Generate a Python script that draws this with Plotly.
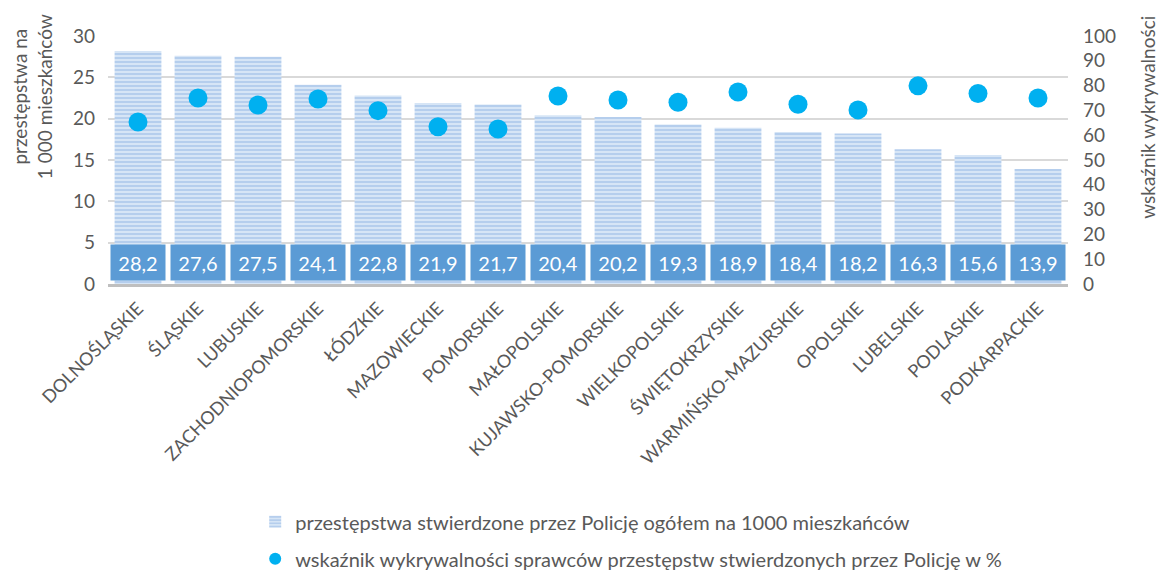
import plotly.graph_objects as go

regions = ["DOLNOŚLĄSKIE", "ŚLĄSKIE", "LUBUSKIE", "ZACHODNIOPOMORSKIE", "ŁÓDZKIE",
           "MAZOWIECKIE", "POMORSKIE", "MAŁOPOLSKIE", "KUJAWSKO-POMORSKIE",
           "WIELKOPOLSKIE", "ŚWIĘTOKRZYSKIE", "WARMIŃSKO-MAZURSKIE", "OPOLSKIE",
           "LUBELSKIE", "PODLASKIE", "PODKARPACKIE"]
crimes_per_1000 = [28.2, 27.6, 27.5, 24.1, 22.8, 21.9, 21.7, 20.4, 20.2,
                   19.3, 18.9, 18.4, 18.2, 16.3, 15.6, 13.9]
detection_rate = [65.3, 75.0, 72.2, 74.6, 69.9, 63.4, 62.5, 75.8, 74.2,
                  73.3, 77.4, 72.5, 70.2, 79.9, 76.8, 75.0]

bar_name = "przestępstwa stwierdzone przez Policję ogółem na 1000 mieszkańców"
dot_name = "wskaźnik wykrywalności sprawców przestępstw stwierdzonych przez Policję w %"
left_title = "przestępstwa na<br>1 000 mieszkańców"
right_title = "wskaźnik wykrywalności"

FONT = "Lato, 'Open Sans', sans-serif"
GREY = "#595959"

fig = go.Figure()
fig.add_trace(go.Bar(
    x=regions, y=crimes_per_1000, name=bar_name, yaxis="y",
    width=0.78, legendgroup="bars",
    marker=dict(color="#D6E5F6",
                line=dict(width=0),
                pattern=dict(shape="-", fgcolor="#93B8E3", bgcolor="#D6E5F6",
                             size=4, solidity=0.5)),
))
fig.add_trace(go.Scatter(
    x=regions, y=detection_rate, name=dot_name, yaxis="y2", mode="markers",
    legendgroup="dots",
    marker=dict(color="#00B0F0", size=19),
))

# value boxes near the base of each bar
for r, v in zip(regions, crimes_per_1000):
    fig.add_annotation(
        x=r, y=2.6, xref="x", yref="y", text=f"{v:.1f}".replace(".", ","),
        showarrow=False, bgcolor="#5B9BD5", width=50, height=31, borderpad=2,
        font=dict(family=FONT, size=20, color="white"),
    )

# axis titles, placed in the upper part of each side
fig.add_annotation(x=-0.079, y=0.754, xref="paper", yref="paper", text=left_title,
                   textangle=-90, showarrow=False, xanchor="center", yanchor="middle",
                   font=dict(family=FONT, size=19, color=GREY))
fig.add_annotation(x=1.082, y=0.673, xref="paper", yref="paper", text=right_title,
                   textangle=-90, showarrow=False, xanchor="center", yanchor="middle",
                   font=dict(family=FONT, size=19, color=GREY))

fig.update_layout(
    width=1160, height=572,
    margin=dict(l=108, r=92, t=36, b=288),
    paper_bgcolor="white", plot_bgcolor="white",
    font=dict(family=FONT, color=GREY, size=18),
    bargap=0.22,
    xaxis=dict(range=[-0.5, len(regions) - 0.5],
               tickangle=-45, tickfont=dict(size=18, color=GREY), showline=True,
               linecolor="#BFBFBF", linewidth=3, ticks="", showgrid=False,
               automargin=False, ticklabelstandoff=4),
    yaxis=dict(range=[0, 30], dtick=5, gridcolor="#D9D9D9", gridwidth=1.5,
               zeroline=False, tickfont=dict(size=19, color=GREY),
               automargin=False, ticklabelstandoff=12),
    yaxis2=dict(range=[0, 100], dtick=10, overlaying="y", side="right",
                showgrid=False, zeroline=False, tickfont=dict(size=19, color=GREY),
                automargin=False, ticklabelstandoff=14),
    legend=dict(orientation="v", x=0.545, xanchor="center",
                yref="container", y=0.122, yanchor="top",
                font=dict(size=20, color=GREY), traceorder="grouped",
                tracegroupgap=8, itemsizing="constant"),
    showlegend=True,
)

fig.write_html("out.html")
